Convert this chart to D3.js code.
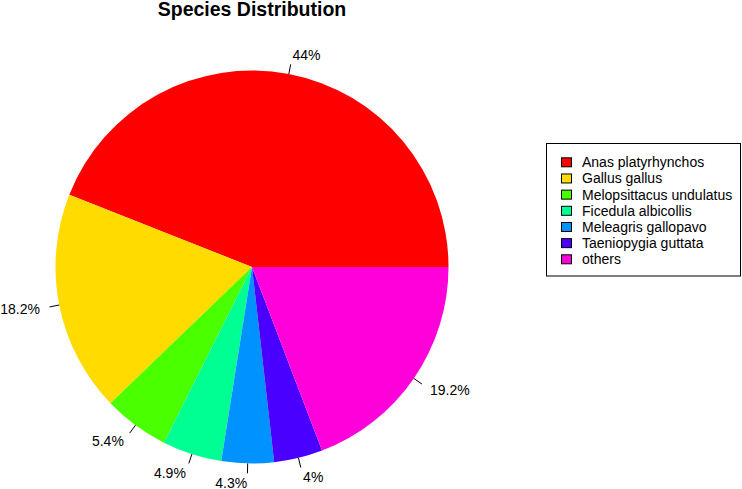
<!DOCTYPE html>
<html>
<head>
<meta charset="utf-8">
<script src="https://cdn.jsdelivr.net/npm/d3@7"></script>
<style>
  body { margin: 0; background: #fff; }
  svg { display: block; font-family: "Liberation Sans", Arial, sans-serif; }
</style>
</head>
<body>
<svg width="742" height="489"></svg>
<script>
// Chart data.
const species = [
  'Anas platyrhynchos',
  'Gallus gallus',
  'Melopsittacus undulatus',
  'Ficedula albicollis',
  'Meleagris gallopavo',
  'Taeniopygia guttata',
  'others',
];
const shares = [44, 18.2, 5.4, 4.9, 4.3, 4, 19.2];
const sliceLabels = ['44%', '18.2%', '5.4%', '4.9%', '4.3%', '4%', '19.2%'];
const sliceColors = ['#FF0000', '#FFDB00', '#49FF00', '#00FF92',
  '#0092FF', '#4900FF', '#FF00DB'];

const svg = d3.select('svg');
const cx = 252;
const cy = 267;
const radius = 196.5;

svg.append('text')
    .attr('x', cx)
    .attr('y', 16)
    .attr('text-anchor', 'middle')
    .attr('font-size', 19.5)
    .attr('font-weight', 'bold')
    .text('Species Distribution');

const color = d3.scaleOrdinal().domain(species).range(sliceColors);

// Start at 3 o'clock and go counterclockwise, like base R's pie().
const pie = d3.pie()
    .sort(null)
    .value((d, i) => shares[i])
    .startAngle(Math.PI / 2)
    .endAngle(Math.PI / 2 - 2 * Math.PI);
const arcs = pie(species);

const arc = d3.arc().innerRadius(0).outerRadius(radius);
const g = svg.append('g').attr('transform', `translate(${cx},${cy})`);

g.selectAll('path.slice')
    .data(arcs)
    .join('path')
    .attr('class', 'slice')
    .attr('d', arc)
    .attr('fill', d => color(d.data));

const midPoint = (d, k) => {
  const a = (d.startAngle + d.endAngle) / 2;
  return [Math.sin(a) * radius * k, -Math.cos(a) * radius * k];
};

g.selectAll('line.tick')
    .data(arcs)
    .join('line')
    .attr('class', 'tick')
    .attr('x1', d => midPoint(d, 1)[0])
    .attr('y1', d => midPoint(d, 1)[1])
    .attr('x2', d => midPoint(d, 1.05)[0])
    .attr('y2', d => midPoint(d, 1.05)[1])
    .attr('stroke', '#000')
    .attr('stroke-width', 1);

g.selectAll('text.label')
    .data(arcs)
    .join('text')
    .attr('class', 'label')
    .attr('x', d => midPoint(d, 1.1)[0])
    .attr('y', d => midPoint(d, 1.1)[1])
    .attr('dy', '0.35em')
    .attr('font-size', 14)
    .attr('text-anchor', d => midPoint(d, 1)[0] < 0 ? 'end' : 'start')
    .text((d, i) => sliceLabels[i]);

// Legend box on the right.
const legend = svg.append('g');
legend.append('rect')
    .attr('x', 546.5)
    .attr('y', 143.5)
    .attr('width', 194)
    .attr('height', 132.5)
    .attr('fill', 'none')
    .attr('stroke', '#000')
    .attr('stroke-width', 1);

const rowY = d3.scalePoint().domain(species).range([162.3, 259.3]);

const rows = legend.selectAll('g.row')
    .data(species)
    .join('g')
    .attr('class', 'row')
    .attr('transform', d => `translate(0,${rowY(d)})`);

rows.append('rect')
    .attr('x', 561.5)
    .attr('y', -4.5)
    .attr('width', 10)
    .attr('height', 9)
    .attr('fill', d => color(d))
    .attr('stroke', '#000')
    .attr('stroke-width', 1);

rows.append('text')
    .attr('x', 582)
    .attr('dy', '0.35em')
    .attr('font-size', 14)
    .text(d => d);
</script>
</body>
</html>
